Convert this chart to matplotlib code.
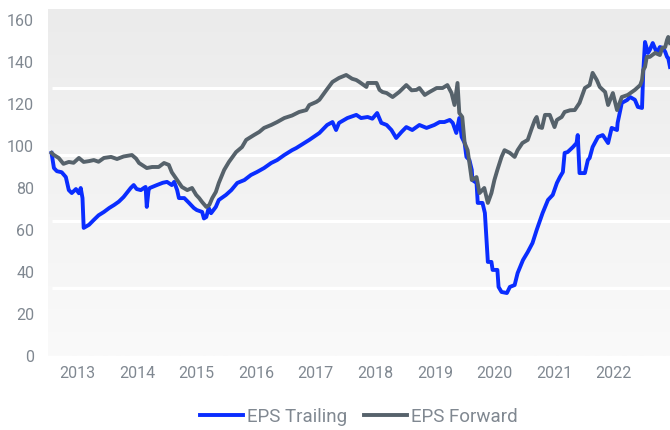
import numpy as np
import matplotlib
matplotlib.use("Agg")
import matplotlib.pyplot as plt
from matplotlib.colors import LinearSegmentedColormap

# decimal years, values
trailing_x = [2013.06, 2013.10, 2013.15, 2013.23, 2013.30, 2013.35, 2013.40, 2013.47, 2013.52, 2013.55,
              2013.58, 2013.60, 2013.69, 2013.77, 2013.85, 2013.94, 2014.03, 2014.11, 2014.19, 2014.27,
              2014.39, 2014.44, 2014.49, 2014.56, 2014.61, 2014.64, 2014.66, 2014.69, 2014.71, 2014.83,
              2014.93, 2015.00, 2015.08, 2015.12, 2015.17, 2015.20, 2015.29, 2015.37, 2015.45, 2015.50,
              2015.59, 2015.62, 2015.66, 2015.70, 2015.74, 2015.82, 2015.87, 2015.99, 2016.08, 2016.18,
              2016.30, 2016.41, 2016.51, 2016.63, 2016.75, 2016.85, 2016.97, 2017.10, 2017.17, 2017.39,
              2017.56, 2017.69, 2017.78, 2017.84, 2017.89, 2018.03, 2018.18, 2018.26, 2018.37, 2018.45,
              2018.53, 2018.60, 2018.69, 2018.77, 2018.85, 2018.94, 2019.02, 2019.12, 2019.24, 2019.36,
              2019.49, 2019.58, 2019.66, 2019.75, 2019.80, 2019.86, 2019.91, 2019.95, 2020.00, 2020.03,
              2020.08, 2020.12, 2020.13, 2020.20, 2020.22, 2020.30, 2020.34, 2020.37, 2020.39, 2020.45,
              2020.47, 2020.55, 2020.57, 2020.62, 2020.71, 2020.76, 2020.84, 2020.89, 2020.98, 2021.06,
              2021.14, 2021.21, 2021.31, 2021.40, 2021.48, 2021.55, 2021.60, 2021.65, 2021.68, 2021.73,
              2021.82, 2021.88, 2021.90, 2021.93, 2022.02, 2022.07, 2022.10, 2022.15, 2022.24, 2022.32,
              2022.41, 2022.47, 2022.56, 2022.57, 2022.64, 2022.73, 2022.78, 2022.86, 2022.91, 2022.98,
              2023.00, 2023.03, 2023.08, 2023.11, 2023.16, 2023.23, 2023.28, 2023.33, 2023.37, 2023.40,
              2023.42, 2023.45]
trailing_y = [96.7, 89.5, 88.0, 87.5, 85.2, 79.0, 77.6, 79.5, 77.5, 80.0,
              75.2, 61.0, 62.5, 64.8, 67.0, 68.6, 70.5, 71.9, 73.5, 75.7,
              80.0, 81.4, 79.5, 79.0, 80.0, 80.5, 71.0, 79.0, 80.0, 81.4,
              82.5, 82.9, 81.4, 82.9, 79.0, 75.2, 75.2, 72.9, 70.5, 69.5,
              68.6, 65.5, 66.2, 70.5, 68.0, 71.0, 74.3, 76.7, 79.0, 82.4,
              83.8, 86.2, 87.6, 89.5, 91.9, 93.3, 95.7, 98.0, 99.0, 102.9,
              106.2, 110.0, 111.4, 107.6, 111.0, 113.3, 114.8, 113.3, 113.8, 113.0,
              115.7, 111.0, 110.0, 107.6, 103.8, 106.7, 109.0, 107.6, 110.0, 108.6,
              110.0, 111.4, 111.4, 112.4, 111.0, 106.2, 113.3, 104.3, 101.4, 94.8,
              93.3, 88.6, 83.8, 82.4, 72.9, 72.9, 68.1, 53.8, 44.8, 44.8,
              41.0, 41.0, 32.9, 30.5, 30.0, 32.9, 33.8, 39.5, 45.7, 49.5,
              53.8, 60.0, 68.1, 74.3, 76.7, 82.4, 85.2, 87.6, 96.7, 97.1,
              99.5, 101.4, 105.2, 87.1, 87.1, 93.3, 94.3, 99.5, 104.3, 105.2,
              101.4, 108.6, 107.6, 111.0, 120.5, 121.9, 123.3, 122.0, 118.6, 118.1,
              134.8, 149.5, 144.3, 145.7, 149.0, 144.3, 147.1, 146.7, 144.8, 142.4,
              141.9, 137.6]

forward_x = [2013.06, 2013.10, 2013.18, 2013.26, 2013.35, 2013.43, 2013.52, 2013.60, 2013.69, 2013.77,
             2013.85, 2013.94, 2014.06, 2014.16, 2014.27, 2014.41, 2014.48, 2014.53, 2014.58, 2014.66,
             2014.75, 2014.86, 2014.95, 2015.03, 2015.08, 2015.17, 2015.25, 2015.34, 2015.42, 2015.49,
             2015.54, 2015.59, 2015.66, 2015.71, 2015.76, 2015.82, 2015.87, 2015.96, 2016.04, 2016.16,
             2016.26, 2016.33, 2016.46, 2016.55, 2016.63, 2016.75, 2016.85, 2016.97, 2017.10, 2017.22,
             2017.34, 2017.39, 2017.51, 2017.56, 2017.68, 2017.78, 2017.89, 2018.01, 2018.11, 2018.18,
             2018.23, 2018.35, 2018.37, 2018.52, 2018.57, 2018.62, 2018.69, 2018.79, 2018.90, 2019.02,
             2019.11, 2019.19, 2019.24, 2019.33, 2019.41, 2019.53, 2019.63, 2019.71, 2019.78, 2019.83,
             2019.88, 2019.91, 2019.96, 2020.00, 2020.05, 2020.12, 2020.20, 2020.25, 2020.33, 2020.39,
             2020.45, 2020.50, 2020.55, 2020.62, 2020.67, 2020.76, 2020.84, 2020.89, 2020.97, 2021.06,
             2021.13, 2021.18, 2021.21, 2021.25, 2021.30, 2021.35, 2021.43, 2021.51, 2021.55, 2021.63,
             2021.68, 2021.77, 2021.85, 2021.93, 2022.02, 2022.10, 2022.15, 2022.22, 2022.27, 2022.36,
             2022.41, 2022.49, 2022.56, 2022.64, 2022.74, 2022.86, 2022.95, 2022.98, 2023.00, 2023.03,
             2023.06, 2023.11, 2023.20, 2023.28, 2023.32, 2023.37, 2023.40, 2023.42, 2023.45]
forward_y = [96.7, 95.7, 94.3, 91.5, 92.4, 92.0, 94.3, 92.4, 92.8, 93.3,
             92.5, 94.3, 94.8, 93.8, 95.0, 95.7, 94.0, 91.9, 91.0, 89.5,
             90.0, 90.0, 91.9, 91.0, 87.5, 83.8, 80.5, 79.0, 80.0, 76.7,
             75.2, 73.3, 71.0, 71.9, 75.2, 78.1, 82.4, 88.6, 92.4, 97.1,
             99.5, 102.9, 105.2, 106.7, 108.6, 110.0, 111.4, 113.3, 114.5, 116.2,
             117.1, 119.5, 121.0, 122.0, 126.7, 130.5, 132.4, 133.8, 132.0, 131.4,
             130.5, 128.1, 130.0, 130.0, 126.7, 125.7, 125.2, 123.3, 125.7, 129.0,
             126.5, 126.7, 127.6, 124.3, 125.7, 127.6, 127.6, 129.0, 125.2, 119.5,
             130.0, 115.7, 113.8, 101.4, 98.0, 83.8, 85.2, 77.6, 80.0, 72.9,
             77.6, 83.8, 88.6, 94.8, 98.0, 96.7, 94.8, 98.0, 101.4, 102.9,
             108.6, 112.4, 113.8, 109.0, 108.6, 114.8, 114.8, 109.0, 112.4, 113.8,
             116.2, 117.0, 117.1, 120.5, 127.6, 129.0, 134.8, 131.4, 128.1, 125.7,
             119.5, 125.2, 117.1, 123.3, 124.3, 126.7, 129.0, 131.4, 136.2, 137.6,
             142.4, 142.4, 144.3, 143.3, 146.7, 147.1, 150.5, 151.9, 149.0]

years = list(range(2013, 2023))
y_ticks = [0, 20, 40, 60, 80, 100, 120, 140, 160]
grid_levels = [32.4, 64.1, 95.9, 127.6]

label_color = "#808891"
plt.rcParams["font.family"] = ["Roboto", "DejaVu Sans"]

fig = plt.figure(figsize=(6.7, 4.3), dpi=100)
ax = fig.add_axes([0.0716, 0.172, 0.9284, 0.807])

x0, x1 = 2013.0, 2023.45
y0, y1 = 0, 165.2

# vertical gradient background
grad = np.linspace(0, 1, 256).reshape(-1, 1)
cmap = LinearSegmentedColormap.from_list("bg", ["#fafafa", "#ebebeb"])
ax.imshow(grad, extent=[x0, x1, y0, y1], origin="lower", aspect="auto", cmap=cmap, zorder=0)

ax.hlines(grid_levels, trailing_x[0], x1, colors="white", linewidth=2.2, zorder=1)

ax.plot(trailing_x, trailing_y, color="#0a2dff", linewidth=2.8, label="EPS Trailing", zorder=3)
ax.plot(forward_x, forward_y, color="#56626b", linewidth=2.8, label="EPS Forward", zorder=3)

ax.set_xlim(x0, x1)
ax.set_ylim(y0, y1)
ax.set_xticks([y + 0.5 for y in years])
ax.set_xticklabels([str(y) for y in years])
ax.set_yticks(y_ticks)
for s in ax.spines.values():
    s.set_visible(False)
ax.tick_params(axis="both", length=0, labelsize=11.5, colors=label_color)
ax.tick_params(axis="y", pad=10)
ax.tick_params(axis="x", pad=7)

ax.legend(loc="upper center", bbox_to_anchor=(0.5, -0.1), ncol=2, frameon=False,
          fontsize=13.5, labelcolor=label_color, handlelength=2.3, handletextpad=0.2,
          columnspacing=0.9)

fig.savefig("out.png", dpi=100)
